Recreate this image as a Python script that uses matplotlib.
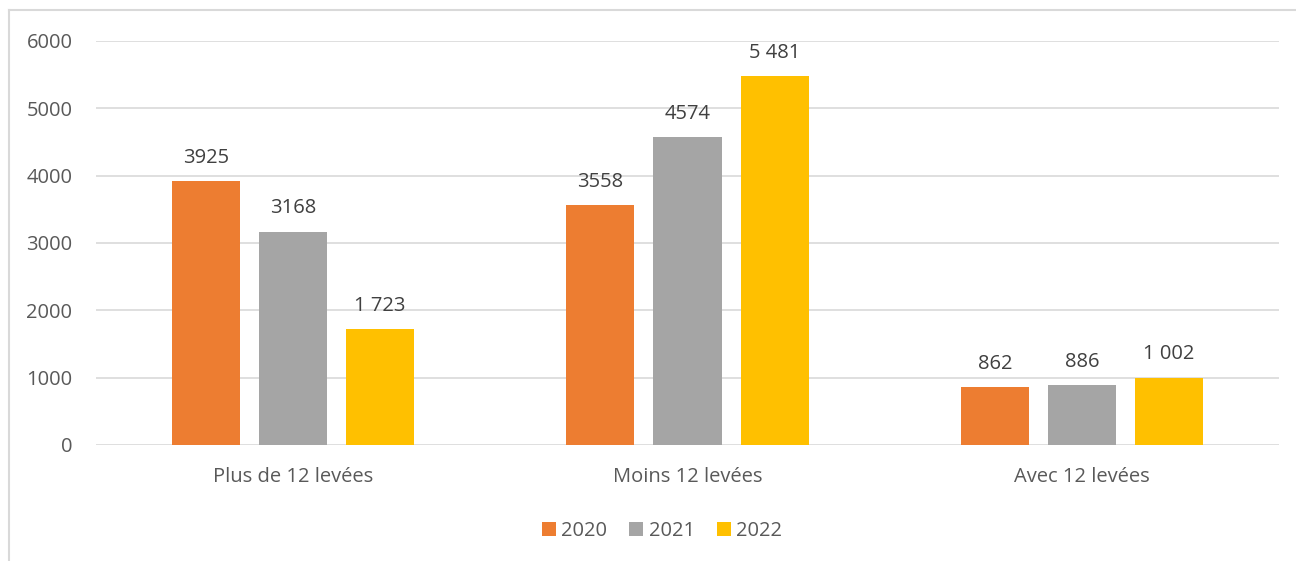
import matplotlib
matplotlib.use("Agg")
import matplotlib.pyplot as plt
from matplotlib.lines import Line2D
from matplotlib.patches import Patch
import numpy as np

categories = ["Plus de 12 levées", "Moins 12 levées", "Avec 12 levées"]
series_names = ["2020", "2021", "2022"]
values_2020 = [3925, 3558, 862]
values_2021 = [3168, 4574, 886]
values_2022 = [1723, 5481, 1002]
labels_2020 = ["3925", "3558", "862"]
labels_2021 = ["3168", "4574", "886"]
labels_2022 = ["1 723", "5 481", "1 002"]
yticks = [0, 1000, 2000, 3000, 4000, 5000, 6000]

colors = ["#ED7D31", "#A5A5A5", "#FFC000"]
text_color = "#595959"
font = ["Open Sans", "DejaVu Sans"]
plt.rcParams["font.family"] = font
fs = 14.5

W, H = 1296, 561
fig = plt.figure(figsize=(W / 100, H / 100), dpi=100)
ax = fig.add_axes([96 / W, 1 - 445 / H, (1279 - 96) / W, (445 - 41) / H])

x = np.arange(len(categories))
bw = 68 / 394
step = 87 / 394
all_vals = [values_2020, values_2021, values_2022]
all_labels = [labels_2020, labels_2021, labels_2022]
for i, (vals, labs) in enumerate(zip(all_vals, all_labels)):
    pos = x + (i - 1) * step
    ax.bar(pos, vals, width=bw, color=colors[i], zorder=3)
    for p, v, l in zip(pos, vals, labs):
        ax.annotate(l, (p, v), xytext=(0, 9.5), textcoords="offset points",
                    ha="center", va="bottom", fontsize=fs, color="#404040")

ax.set_xlim(-0.5, 2.5)
ax.set_ylim(0, 6000)
ax.set_yticks(yticks)
ax.set_yticklabels([str(t) for t in yticks])
ax.set_xticks(x)
ax.set_xticklabels(categories)
ax.tick_params(axis="both", length=0, labelsize=fs, labelcolor=text_color)
ax.tick_params(axis="y", pad=17)
ax.tick_params(axis="x", pad=16)
for s in ax.spines.values():
    s.set_visible(False)
ax.grid(axis="y", color="#D9D9D9", linewidth=1.2, zorder=0)
ax.set_axisbelow(True)

handles = [Patch(facecolor=c, edgecolor="none") for c in colors]
fig.legend(handles, series_names, loc="center", bbox_to_anchor=(662 / W, 1 - 531 / H),
           ncol=3, frameon=False, fontsize=fs, labelcolor=text_color,
           handlelength=0.7, handleheight=0.7, handletextpad=0.25, columnspacing=1.1)

# outer chart border (partially visible)
fig.add_artist(Line2D([8.5 / W, 8.5 / W], [0, 1 - 10 / H], color="#D9D9D9", linewidth=1.5,
                      transform=fig.transFigure))
fig.add_artist(Line2D([8.5 / W, 1], [1 - 10 / H, 1 - 10 / H], color="#D9D9D9", linewidth=1.5,
                      transform=fig.transFigure))

fig.savefig("out.png", dpi=100)
